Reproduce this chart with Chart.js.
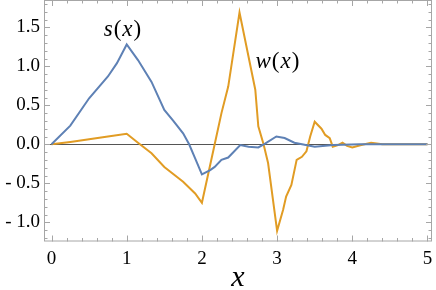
<!DOCTYPE html>
<html>
<head>
<meta charset="utf-8">
<script src="https://cdn.jsdelivr.net/npm/chart.js@4.4.1/dist/chart.umd.min.js"></script>
<style>
	html, body { margin: 0; padding: 0; background: #fff; }
	#wrap { width: 436px; height: 290px; }
</style>
</head>
<body>
<div id="wrap"><canvas id="plot"></canvas></div>
<script>
// s(x) samples
const sX = [0, 0.25, 0.5, 0.75, 0.87, 1.0, 1.15, 1.33, 1.5, 1.62, 1.75, 1.83, 1.91, 2.0, 2.11, 2.17, 2.26, 2.35, 2.51, 2.62, 2.75, 2.84, 2.99, 3.1, 3.23, 3.5, 3.75, 4.1, 4.5, 5.0];
const sY = [0, 0.24, 0.59, 0.87, 1.04, 1.28, 1.08, 0.8, 0.44, 0.3, 0.14, 0, -0.18, -0.385, -0.33, -0.29, -0.2, -0.17, -0.01, -0.03, -0.04, 0.01, 0.1, 0.08, 0.02, -0.03, -0.01, 0, 0, 0];

// w(x) samples
const wX = [0, 0.25, 0.5, 0.75, 1.0, 1.15, 1.33, 1.5, 1.75, 1.91, 2.0, 2.17, 2.26, 2.35, 2.5, 2.71, 2.75, 2.82, 2.88, 3.0, 3.08, 3.12, 3.19, 3.26, 3.33, 3.39, 3.44, 3.5, 3.59, 3.64, 3.7, 3.74, 3.81, 3.87, 3.93, 4.0, 4.12, 4.25, 4.4, 5.0];
const wY = [0, 0.03, 0.065, 0.1, 0.136, 0.02, -0.115, -0.29, -0.48, -0.63, -0.75, 0, 0.4, 0.74, 1.69, 0.7, 0.23, 0, -0.24, -1.11, -0.84, -0.67, -0.52, -0.2, -0.16, -0.09, 0.1, 0.29, 0.2, 0.12, 0.08, -0.03, -0.01, 0.02, -0.02, -0.04, -0.01, 0.02, 0, 0];

// tick labels
const xTicks = [0, 1, 2, 3, 4, 5];
const yTicks = [-1, -0.5, 0, 0.5, 1, 1.5];

// curve labels (name, centre in data units)
const curveLabels = [
	{ name: 's', x: 0.95, y: 1.47 },
	{ name: 'w', x: 3.01, y: 1.055 }
];

const pts = (xs, ys) => xs.map((x, i) => ({ x: x, y: ys[i] }));

// frame, inward ticks, zero line and curve labels, Mathematica style
const framePlugin = {
	id: 'frame',
	beforeDatasetsDraw(chart) {
		const { ctx, chartArea: a, scales: { y } } = chart;
		ctx.save();
		// zero line
		ctx.strokeStyle = '#555';
		ctx.lineWidth = 1;
		const y0 = Math.round(y.getPixelForValue(0)) + 0.5;
		ctx.beginPath();
		ctx.moveTo(a.left, y0);
		ctx.lineTo(a.right, y0);
		ctx.stroke();
		ctx.restore();
	},
	afterDatasetsDraw(chart) {
		const { ctx, chartArea: a, scales: { x, y } } = chart;
		ctx.save();
		ctx.strokeStyle = '#a6a6a6';
		ctx.lineWidth = 1;
		ctx.strokeRect(a.left + 0.5, a.top + 0.5, a.right - a.left - 1, a.bottom - a.top - 1);

		ctx.beginPath();
		// x ticks every 0.2, major every 1
		for (let i = 0; i <= 25; i++) {
			const v = i * 0.2;
			const px = Math.round(x.getPixelForValue(v)) + 0.5;
			const len = (i % 5 === 0) ? 6 : 3.5;
			ctx.moveTo(px, a.bottom); ctx.lineTo(px, a.bottom - len);
			ctx.moveTo(px, a.top); ctx.lineTo(px, a.top + len);
		}
		// y ticks every 0.1, major every 0.5
		for (let i = -12; i <= 18; i++) {
			const v = i * 0.1;
			const py = Math.round(y.getPixelForValue(v)) + 0.5;
			const len = (i % 5 === 0) ? 6 : 3.5;
			ctx.moveTo(a.left, py); ctx.lineTo(a.left + len, py);
			ctx.moveTo(a.right, py); ctx.lineTo(a.right - len, py);
		}
		ctx.stroke();

		// curve labels: italic letters, upright brackets
		ctx.fillStyle = '#000';
		ctx.textBaseline = 'middle';
		ctx.textAlign = 'left';
		const ital = 'italic 23px "Liberation Serif"';
		const rom = '23px "Liberation Serif"';
		curveLabels.forEach(l => {
			const parts = [[l.name, ital], ['(', rom], ['x', ital], [')', rom]];
			let w = 0;
			parts.forEach(p => { ctx.font = p[1]; w += ctx.measureText(p[0]).width + 1; });
			let cx = x.getPixelForValue(l.x) - w / 2;
			const cy = y.getPixelForValue(l.y);
			parts.forEach(p => {
				ctx.font = p[1];
				ctx.fillText(p[0], cx, cy);
				cx += ctx.measureText(p[0]).width + 1;
			});
		});
		ctx.restore();
	}
};

new Chart(document.getElementById('plot'), {
	type: 'scatter',
	data: {
		datasets: [
			{
				label: 's(x)',
				data: pts(sX, sY),
				showLine: true,
				borderColor: '#5e81b5',
				borderWidth: 2,
				pointRadius: 0,
				tension: 0
			},
			{
				label: 'w(x)',
				data: pts(wX, wY),
				showLine: true,
				borderColor: '#e19c24',
				borderWidth: 2,
				pointRadius: 0,
				tension: 0
			}
		]
	},
	options: {
		responsive: true,
		maintainAspectRatio: false,
		animation: false,
		layout: { padding: { top: 0, right: 4, left: 0, bottom: 0 } },
		plugins: {
			legend: { display: false },
			tooltip: { enabled: false }
		},
		scales: {
			x: {
				type: 'linear',
				min: -0.1,
				max: 5.06,
				afterBuildTicks: s => { s.ticks = xTicks.map(v => ({ value: v })); },
				afterFit: s => { s.height = 48.5; s.paddingLeft = 0; s.paddingRight = 0; },
				grid: { display: false, drawTicks: false },
				border: { display: false },
				ticks: {
					padding: 6,
					color: '#000',
					font: { family: 'Liberation Serif', size: 19 },
					maxRotation: 0,
					callback: v => String(v)
				},
				title: {
					display: true,
					text: 'x',
					color: '#000',
					font: { family: 'Liberation Serif', size: 30, style: 'italic', lineHeight: 0.8 },
					padding: { top: 0, bottom: 0 }
				}
			},
			y: {
				type: 'linear',
				min: -1.246,
				max: 1.85,
				afterBuildTicks: s => { s.ticks = yTicks.map(v => ({ value: v })); },
				afterFit: s => { s.width = 44; s.paddingTop = 0; s.paddingBottom = 0; },
				grid: { display: false, drawTicks: false },
				border: { display: false },
				ticks: {
					padding: 4,
					color: '#000',
					font: { family: 'Liberation Serif', size: 19 },
					callback: v => (v < 0 ? '- ' : '') + Math.abs(v).toFixed(1)
				}
			}
		}
	},
	plugins: [framePlugin]
});
</script>
</body>
</html>
